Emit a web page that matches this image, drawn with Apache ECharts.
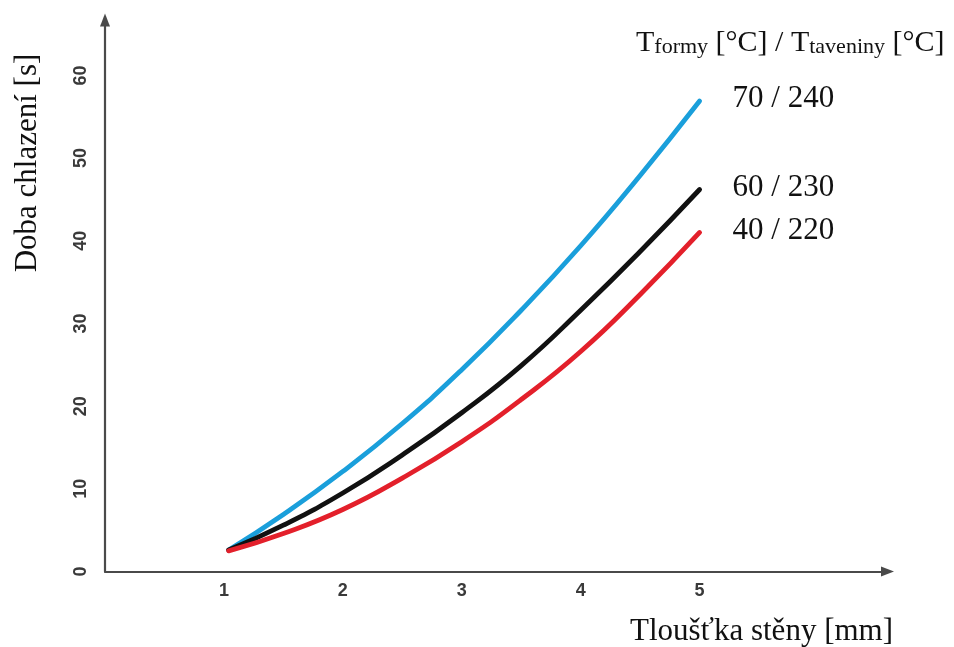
<!DOCTYPE html>
<html>
<head>
<meta charset="utf-8">
<script src="https://cdn.jsdelivr.net/npm/echarts@6/dist/echarts.min.js"></script>
<style>
html,body{margin:0;padding:0;background:#fff;}
#chart{width:954px;height:647px;}
</style>
</head>
<body>
<div id="chart"></div>
<script>
// ---- data ----
var thickness = [1.04, 1.5, 2, 2.5, 3, 3.5, 4, 4.5, 5];
var series70_240 = [2.6, 6.9, 12.1, 17.9, 24.4, 31.6, 39.4, 47.9, 56.9];
var series60_230 = [2.6, 5.6, 9.5, 14.1, 19.2, 24.9, 31.6, 38.7, 46.2];
var series40_220 = [2.5, 4.6, 7.5, 11.3, 15.7, 20.8, 26.6, 33.5, 41.0];
var seriesNames = ['70 / 240', '60 / 230', '40 / 220'];
var xTickLabels = ['1', '2', '3', '4', '5'];
var yTickLabels = ['0', '10', '20', '30', '40', '50', '60'];

function pairs(xs, ys) {
  return xs.map(function (x, i) { return [x, ys[i]]; });
}

var serif = '"Liberation Serif", "Times New Roman", serif';
var sans = '"Liberation Sans", Arial, sans-serif';
var colors = ['#1a9fdb', '#111111', '#e3202b'];
var allData = [series70_240, series60_230, series40_220];

var chart = echarts.init(document.getElementById('chart'), null, {renderer: 'canvas'});

var option = {
  animation: false,
  backgroundColor: '#ffffff',
  grid: {left: 105, right: 66.5, top: 20, bottom: 75.5, containLabel: false},
  xAxis: {
    type: 'value',
    min: 0,
    max: 6.58,
    interval: 1,
    splitLine: {show: false},
    axisTick: {show: false},
    axisLine: {
      show: true,
      onZero: false,
      symbol: ['none', 'triangle'],
      symbolSize: [10, 13],
      lineStyle: {color: '#4a4a4a', width: 2.2}
    },
    axisLabel: {
      margin: 11,
      fontFamily: sans,
      fontWeight: 'bold',
      fontSize: 18,
      color: '#3a3a3a',
      showMaxLabel: false,
      formatter: function (v) {
        var s = String(v);
        return xTickLabels.indexOf(s) >= 0 ? s : '';
      }
    }
  },
  yAxis: {
    type: 'value',
    min: 0,
    max: 66.7,
    interval: 10,
    splitLine: {show: false},
    axisTick: {show: false},
    axisLine: {
      show: true,
      onZero: false,
      symbol: ['none', 'triangle'],
      symbolSize: [10, 13],
      lineStyle: {color: '#4a4a4a', width: 2.2}
    },
    axisLabel: {
      margin: 15,
      rotate: 90,
      align: 'center',
      verticalAlign: 'bottom',
      fontFamily: sans,
      fontWeight: 'bold',
      fontSize: 18,
      color: '#3a3a3a',
      showMaxLabel: false,
      formatter: function (v) {
        var s = String(v);
        return yTickLabels.indexOf(s) >= 0 ? s : '';
      }
    }
  },
  series: seriesNames.map(function (name, i) {
    return {
      name: name,
      type: 'line',
      smooth: true,
      showSymbol: false,
      symbol: 'none',
      data: pairs(thickness, allData[i]),
      lineStyle: {color: colors[i], width: 4.8, cap: 'round'},
      itemStyle: {color: colors[i]},
      endLabel: {
        show: true,
        formatter: '{a}',
        distance: 33,
        offset: [0, -2],
        fontFamily: serif,
        fontSize: 31,
        color: '#111'
      }
    };
  }),
  graphic: [
    {
      type: 'text',
      x: 28, y: 163,
      rotation: Math.PI / 2,
      style: {
        text: 'Doba chlazení [s]',
        fontFamily: serif,
        fontSize: 31,
        fill: '#111',
        textAlign: 'center',
        textVerticalAlign: 'middle'
      }
    },
    {
      type: 'text',
      x: 893, y: 632,
      style: {
        text: 'Tloušťka stěny [mm]',
        fontFamily: serif,
        fontSize: 31,
        fill: '#111',
        textAlign: 'right',
        textVerticalAlign: 'middle'
      }
    },
    {
      type: 'text',
      x: 636, y: 43,
      style: {
        text: 'T{s|formy} [°C] / T{s|taveniny} [°C]',
        fontFamily: serif,
        fontSize: 30,
        fill: '#111',
        textAlign: 'left',
        textVerticalAlign: 'middle',
        rich: {
          s: {fontFamily: serif, fontSize: 22, fill: '#111', verticalAlign: 'bottom'}
        }
      }
    }
  ]
};

chart.setOption(option);
</script>
</body>
</html>
